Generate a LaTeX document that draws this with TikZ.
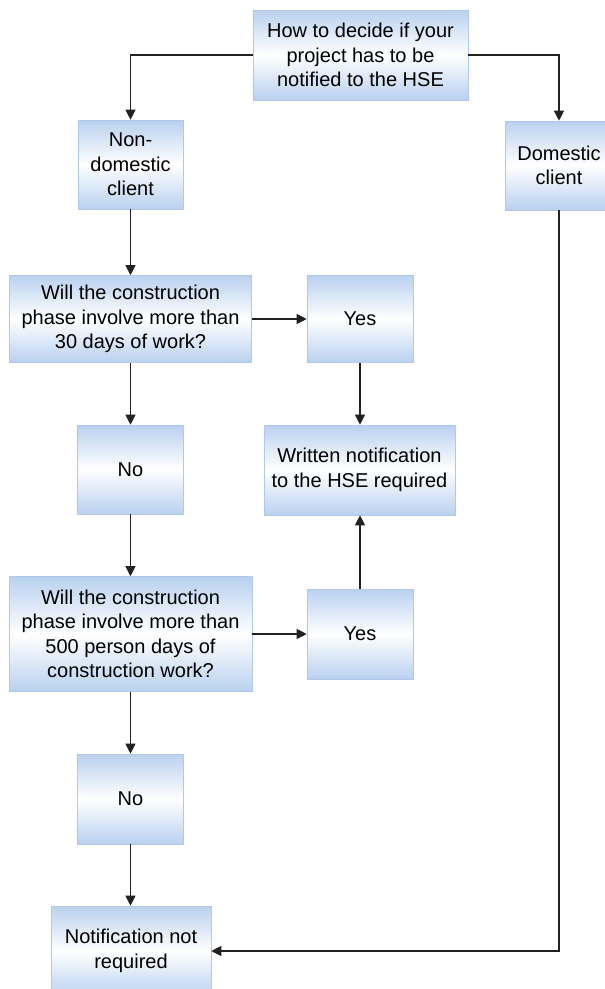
\documentclass[tikz,border=0pt]{standalone}
\usepackage{fontspec}
\setmainfont{Liberation Sans}
\usetikzlibrary{arrows.meta}
\definecolor{boxblue}{HTML}{B9D1EF}
\definecolor{boxline}{HTML}{AFC9EA}
\definecolor{lineclr}{HTML}{222222}
\tikzset{
  fbox/.style={rectangle, draw=boxline, line width=0.6pt,
    top color=boxblue, bottom color=boxblue, middle color=white,
    inner sep=0pt, align=center, font=\fontsize{20}{24.5}\selectfont},
  conn/.style={draw=lineclr, line width=1.1pt,
    -{Triangle[length=10pt,width=10pt]}},
  plain/.style={draw=lineclr, line width=1.1pt}
}
\begin{document}
\begin{tikzpicture}[x=1pt,y=-1pt]
\clip (0,0) rectangle (605,989);
\fill[white] (0,0) rectangle (605,989);
\node[fbox, minimum width=215pt, minimum height=90pt] (top) at (360.5,55)
  {How to decide if your\\project has to be\\notified to the HSE};
\node[fbox, minimum width=105pt, minimum height=89pt] (nondom) at (130.5,164.5)
  {Non-\\domestic\\client};
\node[fbox, minimum width=108pt, minimum height=89pt] (dom) at (559,165.5)
  {Domestic\\client};
\node[fbox, minimum width=242pt, minimum height=87pt] (q1) at (130.5,319)
  {Will the construction\\phase involve more than\\30 days of work?};
\node[fbox, minimum width=106pt, minimum height=87pt] (yes1) at (360,319)
  {Yes};
\node[fbox, minimum width=106pt, minimum height=89pt] (no1) at (130.5,469.5)
  {No};
\node[fbox, minimum width=191pt, minimum height=90pt] (written) at (359.5,470)
  {Written notification\\to the HSE required};
\node[fbox, minimum width=243pt, minimum height=115pt] (q2) at (130.5,634)
  {Will the construction\\phase involve more than\\500 person days of\\construction work?};
\node[fbox, minimum width=106pt, minimum height=90pt] (yes2) at (360,634)
  {Yes};
\node[fbox, minimum width=106pt, minimum height=90pt] (no2) at (130.5,799)
  {No};
\node[fbox, minimum width=160pt, minimum height=90pt] (notif) at (131,951)
  {Notification not\\required};
\draw[conn] (top.west) -| (nondom.north);
\draw[conn] (top.east) -| (dom.north);
\draw[conn] (nondom.south) -- (q1.north);
\draw[conn] (q1.east) -- (yes1.west);
\draw[conn] (yes1.south) -- (yes1.south |- written.north);
\draw[conn] (q1.south) -- (no1.north);
\draw[conn] (no1.south) -- (q2.north);
\draw[conn] (q2.east) -- (yes2.west);
\draw[conn] (yes2.north) -- (yes2.north |- written.south);
\draw[conn] (q2.south) -- (no2.north);
\draw[conn] (no2.south) -- (no2.south |- notif.north);
\draw[conn] (dom.south) |- (notif.east);
\end{tikzpicture}
\end{document}
